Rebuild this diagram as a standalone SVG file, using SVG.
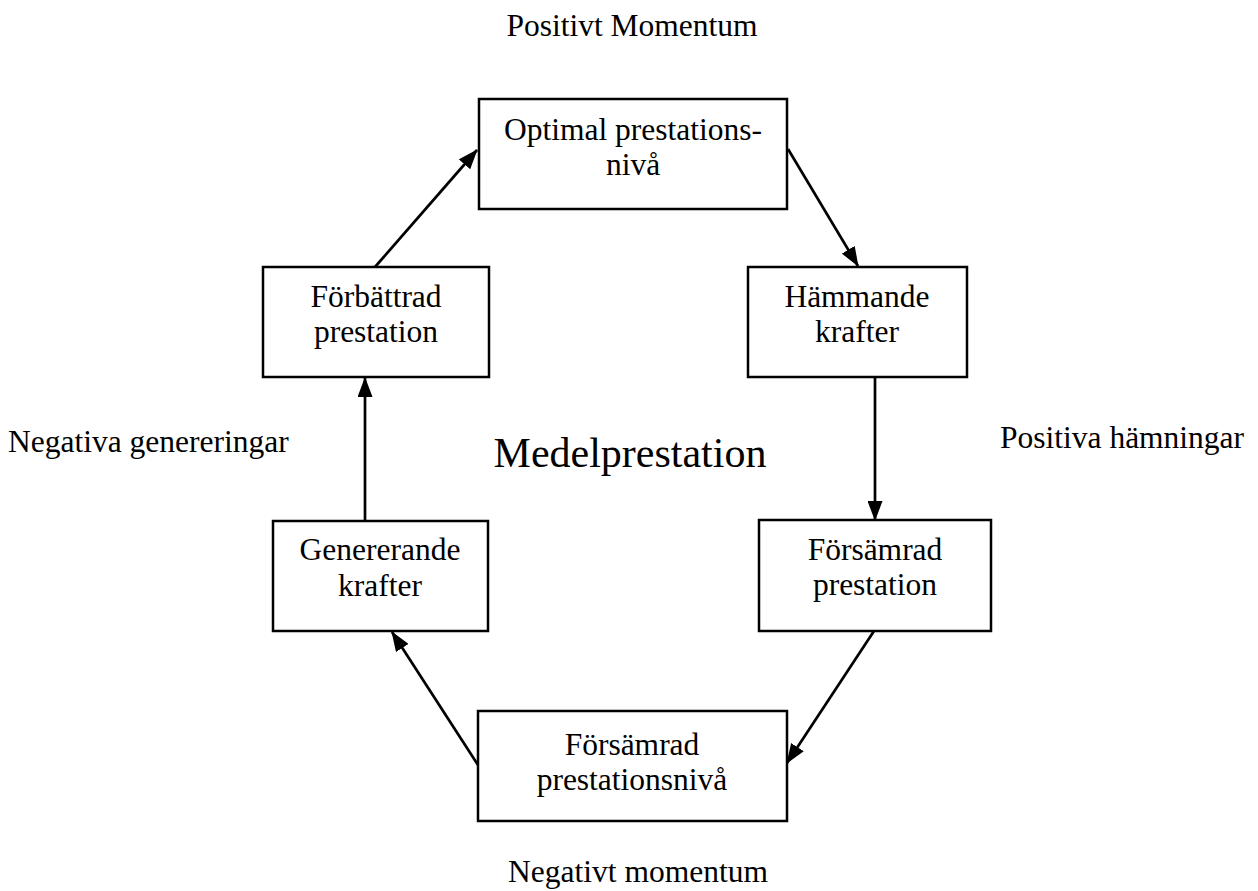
<svg xmlns="http://www.w3.org/2000/svg" width="1258" height="891" viewBox="0 0 1258 891">
<style>
  .box { fill: #ffffff; stroke: #000000; stroke-width: 2.5; }
  .t { font-family: "Liberation Serif", "Times New Roman", serif; font-size: 31.5px; fill: #000000; text-anchor: middle; }
  .big { font-size: 42px; }
  .lbl { font-family: "Liberation Serif", "Times New Roman", serif; font-size: 31.5px; fill: #000000; }
  .conn { stroke: #000000; stroke-width: 2.7; fill: none; marker-end: url(#arrow); }
</style>
<defs>
  <marker id="arrow" markerUnits="userSpaceOnUse" viewBox="0 0 20 15" refX="19" refY="7.5" markerWidth="20" markerHeight="15" orient="auto">
    <path d="M0,0 L20,7.5 L0,15 Z" fill="#000000"/>
  </marker>
</defs>
<rect width="1258" height="891" fill="#ffffff"/>

<g id="connectors">
  <line class="conn" x1="365" y1="521" x2="365" y2="378"/>
  <line class="conn" x1="375" y1="267" x2="477" y2="150"/>
  <line class="conn" x1="788" y1="149" x2="858" y2="266"/>
  <line class="conn" x1="875" y1="377" x2="875" y2="520"/>
  <line class="conn" x1="874" y1="631" x2="787" y2="763"/>
  <line class="conn" x1="478" y1="765" x2="392" y2="632"/>
</g>

<g id="node-optimal">
  <rect class="box" x="479" y="99" width="308" height="110"/>
  <text class="t" x="633" y="140">Optimal prestations-</text>
  <text class="t" x="633" y="175">nivå</text>
</g>
<g id="node-forbattrad">
  <rect class="box" x="263" y="267" width="226" height="110"/>
  <text class="t" x="376" y="307">Förbättrad</text>
  <text class="t" x="376" y="342">prestation</text>
</g>
<g id="node-hammande">
  <rect class="box" x="748" y="267" width="219" height="110"/>
  <text class="t" x="857" y="307">Hämmande</text>
  <text class="t" x="857" y="342">krafter</text>
</g>
<g id="node-genererande">
  <rect class="box" x="273" y="521" width="215" height="110"/>
  <text class="t" x="380" y="560">Genererande</text>
  <text class="t" x="380" y="596">krafter</text>
</g>
<g id="node-forsamrad-prestation">
  <rect class="box" x="759" y="520" width="232" height="111"/>
  <text class="t" x="875" y="560">Försämrad</text>
  <text class="t" x="875" y="595">prestation</text>
</g>
<g id="node-forsamrad-niva">
  <rect class="box" x="478" y="711" width="309" height="110"/>
  <text class="t" x="632" y="755">Försämrad</text>
  <text class="t" x="632" y="790">prestationsnivå</text>
</g>

<g id="labels">
  <text class="t" x="632" y="36">Positivt Momentum</text>
  <text class="t big" x="630" y="467">Medelprestation</text>
  <text class="lbl" x="8" y="452">Negativa genereringar</text>
  <text class="lbl" x="1000" y="448">Positiva hämningar</text>
  <text class="t" x="638" y="882">Negativt momentum</text>
</g>
</svg>
